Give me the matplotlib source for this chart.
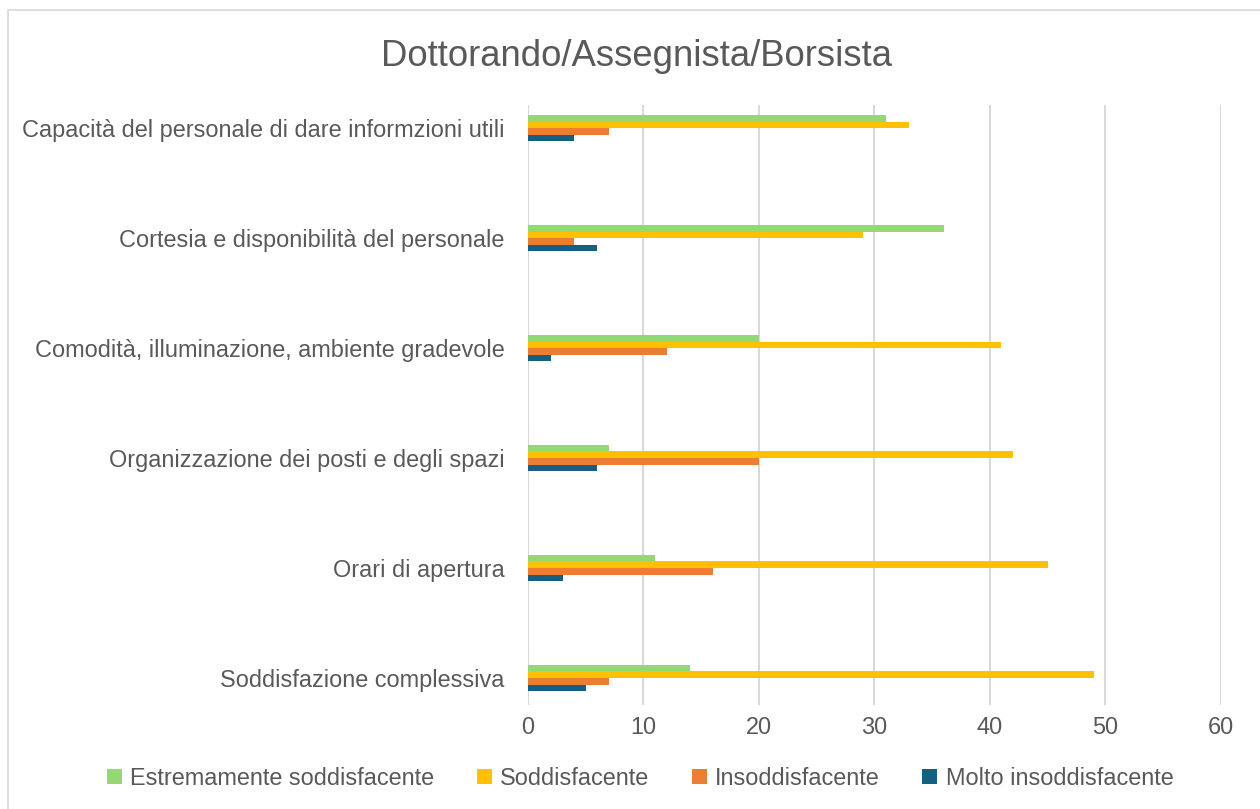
import numpy as np
import matplotlib.pyplot as plt
from matplotlib.patches import Rectangle

plt.rcParams['font.family'] = ['Liberation Sans', 'DejaVu Sans']

# categorie (dal basso verso l'alto)
categorie = ['Soddisfazione complessiva', 'Orari di apertura',
             'Organizzazione dei posti e degli spazi',
             'Comodità, illuminazione, ambiente gradevole',
             'Cortesia e disponibilità del personale',
             'Capacità del personale di dare informzioni utili']

estremamente = [14, 11, 7, 20, 36, 31]
soddisfacente = [49, 45, 42, 41, 29, 33]
insoddisfacente = [7, 16, 20, 12, 4, 7]
molto_insodd = [5, 3, 6, 2, 6, 4]

serie = ['Estremamente soddisfacente', 'Soddisfacente', 'Insoddisfacente', 'Molto insoddisfacente']
colori = ['#92D873', '#FFC000', '#ED7D31', '#156082']
valori = [estremamente, soddisfacente, insoddisfacente, molto_insodd]

grigio = '#595959'

fig = plt.figure(figsize=(12.6, 8.09), dpi=100)
ax = fig.add_axes([0.419, 0.1286, 0.55, 0.7414])

y = np.arange(len(categorie))
h = 0.06
offsets = [1.5 * h, 0.5 * h, -0.5 * h, -1.5 * h]
for vals, col, lab, off in zip(valori, colori, serie, offsets):
    ax.barh(y + off, vals, height=h, color=col, label=lab, zorder=3)

ax.set_xlim(0, 60)
ax.set_ylim(-0.245, 5.209)
ax.set_xticks(range(0, 61, 10))
ax.set_yticks(y)
ax.set_yticklabels(categorie)
ax.tick_params(axis='both', length=0, labelsize=16.9, colors=grigio)
ax.tick_params(axis='y', pad=17)
ax.tick_params(axis='x', pad=8)
ax.grid(axis='x', color='#D9D9D9', linewidth=1.5, zorder=0)
for s in ax.spines.values():
    s.set_visible(False)
ax.axvline(0, color='#D9D9D9', linewidth=1.5, zorder=1)

fig.text(0.505, 0.93, 'Dottorando/Assegnista/Borsista', ha='center', va='center',
         fontsize=26.3, color=grigio)

fig.legend(loc='center', bbox_to_anchor=(0.508, 0.038), ncol=4, frameon=False,
           fontsize=16.9, labelcolor=grigio, handlelength=0.65, handleheight=0.65,
           handletextpad=0.35, columnspacing=1.8)

# bordo del grafico
fig.patches.append(Rectangle((8 / 1260, -0.1), 1.2, 1.1 - 10 / 809, transform=fig.transFigure,
                             fill=False, edgecolor='#D9D9D9', linewidth=1.2))

fig.savefig('out.png', dpi=100)
